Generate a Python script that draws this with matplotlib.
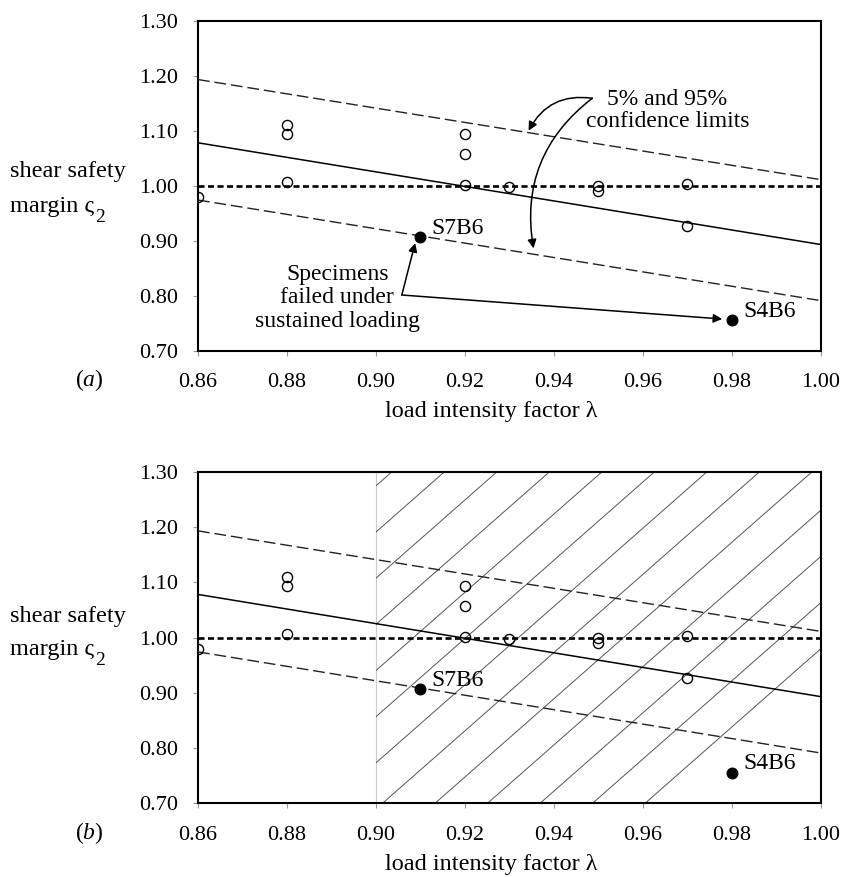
import numpy as np
import matplotlib
matplotlib.use('Agg')
import matplotlib.pyplot as plt
from matplotlib.patches import FancyArrowPatch, Rectangle

# fonts: Times-like serif everywhere, mathtext only for the italic panel tags
plt.rcParams['font.family'] = ['Liberation Serif', 'DejaVu Serif']
plt.rcParams['mathtext.fontset'] = 'custom'
plt.rcParams['mathtext.rm'] = 'Liberation Serif'
plt.rcParams['mathtext.it'] = 'Liberation Serif:italic'

# test specimens (load intensity factor, shear safety margin)
lambda_open = [0.86, 0.88, 0.88, 0.88, 0.92, 0.92, 0.92, 0.93, 0.95, 0.95, 0.97, 0.97]
margin_open = [0.980, 1.110, 1.094, 1.007, 1.094, 1.057, 1.001, 0.997, 1.000, 0.990, 1.003, 0.927]

# specimens failed under sustained loading
lambda_failed = [0.91, 0.98]
margin_failed = [0.906, 0.755]
failed_names = ['S7B6', 'S4B6']

# regression line and 5% / 95% confidence limits (values at both ends)
line_lambda = [0.86, 1.00]
mean_margin = [1.078, 0.893]
upper_margin = [1.193, 1.011]
lower_margin = [0.974, 0.791]

# axis ticks
x_ticks = [0.86, 0.88, 0.90, 0.92, 0.94, 0.96, 0.98, 1.00]
y_ticks = [0.70, 0.80, 0.90, 1.00, 1.10, 1.20, 1.30]

# hatched range of panel (b)
hatch_range = [0.90, 1.00]


# draw everything both panels share
def drawPanel(ax, tag, ylab_pos):
    ax.set_xlim(x_ticks[0], x_ticks[-1])
    ax.set_ylim(y_ticks[0], y_ticks[-1])

    # confidence limits, mean line and safety margin of 1
    ax.plot(line_lambda, upper_margin, color='#222222', lw=1.0, dashes=(8.5, 3.5), zorder=3)
    ax.plot(line_lambda, lower_margin, color='#222222', lw=1.0, dashes=(8.5, 3.5), zorder=3)
    ax.plot(line_lambda, mean_margin, color='black', lw=1.1, zorder=3)
    ax.axhline(1.0, color='black', lw=1.9, dashes=(2.3, 1.3), zorder=3)

    # data points
    ax.plot(lambda_open, margin_open, 'o', ms=7.3, mfc='none', mec='black', mew=1.0, zorder=4)
    ax.plot(lambda_failed, margin_failed, 'o', ms=7.6, color='black', zorder=4)
    for x, y, name in zip(lambda_failed, margin_failed, failed_names):
        ax.annotate(name, (x, y), xytext=(8, 6.5), textcoords='offset points',
                    ha='left', va='center', fontsize=17)

    # ticks and frame
    ax.set_xticks(x_ticks)
    ax.set_yticks(y_ticks)
    ax.set_xticklabels([f'{v:.2f}' for v in x_ticks])
    ax.set_yticklabels([f'{v:.2f}' for v in y_ticks])
    ax.tick_params(direction='out', length=3.6, width=0.8, color='#999999', labelsize=16)
    ax.tick_params(axis='x', pad=12.5)
    ax.tick_params(axis='y', pad=11)
    for side in ax.spines.values():
        side.set_linewidth(1.5)
        side.set_color('black')

    # labels placed like the original
    ax.text(0.47, -0.185, 'load intensity factor λ', transform=ax.transAxes,
            ha='center', va='center', fontsize=17.5)
    ax.text(-0.302, ylab_pos[0], 'shear safety', transform=ax.transAxes,
            ha='left', va='baseline', fontsize=17.5)
    sym = ax.text(-0.302, ylab_pos[1], 'margin ς', transform=ax.transAxes,
                  ha='left', va='baseline', fontsize=17.5)
    ax.annotate('2', xy=(1, 0), xycoords=sym, xytext=(0.5, -3.5), textcoords='offset points',
                ha='left', va='baseline', fontsize=14)
    ax.text(-0.175, -0.09, '(' + r'$\it{' + tag + '}$' + ')', transform=ax.transAxes,
            ha='center', va='center', fontsize=17)


# arrows and notes of panel (a)
def drawNotes(ax):
    ax.text(0.9655, 1.137, '5% and 95%\nconfidence limits', ha='center', va='center',
            fontsize=17, linespacing=1.05)
    ax.text(0.8913, 0.7964, 'Specimens\nfailed under\nsustained loading', ha='center',
            va='center', fontsize=17, linespacing=1.15)

    style = dict(arrowstyle='-|>', mutation_scale=13, color='black', lw=1.1,
                 shrinkA=0, shrinkB=0, zorder=5)
    start = (0.9486, 1.159)
    ax.add_patch(FancyArrowPatch(start, (0.9343, 1.100), connectionstyle='arc3,rad=0.35', **style))
    ax.add_patch(FancyArrowPatch(start, (0.9354, 0.886), connectionstyle='arc3,rad=0.3', **style))

    corner = (0.9058, 0.8013)
    ax.add_patch(FancyArrowPatch(corner, (0.9088, 0.8958), **style))
    ax.add_patch(FancyArrowPatch(corner, (0.9778, 0.7576), **style))


# oblique hatching over the range of panel (b)
def drawHatch(ax):
    ax.axvline(hatch_range[0], color='#cccccc', lw=0.8, zorder=1)
    box = Rectangle((hatch_range[0], y_ticks[0]), hatch_range[1] - hatch_range[0],
                    y_ticks[-1] - y_ticks[0], transform=ax.transData, fill=False, lw=0)
    ax.add_patch(box)
    slope = 7.08      # data units of margin per unit of lambda
    spacing = 0.0118  # horizontal distance between hatch lines
    phase = 0.9154    # a hatch line meets the top frame here
    height = y_ticks[-1] - y_ticks[0]
    for k in range(-12, 12):
        top = phase + k * spacing
        seg, = ax.plot([top - height / slope, top], [y_ticks[0], y_ticks[-1]],
                       color='#555555', lw=0.7, zorder=1)
        seg.set_clip_path(box)


def main():
    fig = plt.figure(figsize=(8.45, 8.77), dpi=100)
    ax_a = fig.add_axes([0.2343, 0.6001, 0.7373, 0.3763])
    ax_b = fig.add_axes([0.2343, 0.0840, 0.7373, 0.3781])

    drawPanel(ax_a, 'a', (0.527, 0.421))
    drawNotes(ax_a)

    drawHatch(ax_b)
    drawPanel(ax_b, 'b', (0.548, 0.447))

    fig.savefig('out.png', dpi=100)


if __name__ == '__main__':
    main()
